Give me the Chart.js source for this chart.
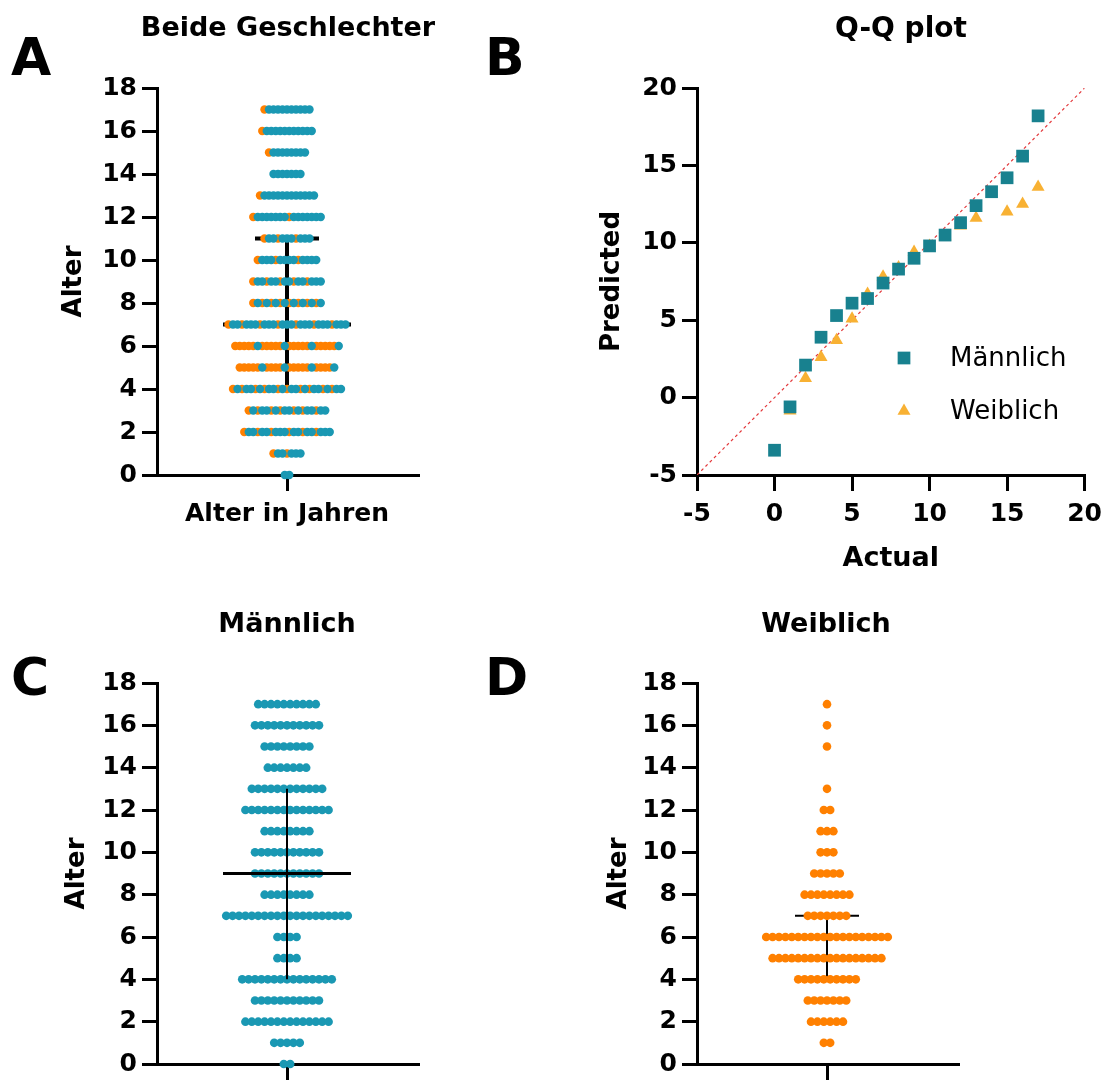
<!DOCTYPE html>
<html>
<head>
<meta charset="utf-8">
<script src="https://cdn.jsdelivr.net/npm/chart.js@4.4.1/dist/chart.umd.min.js"></script>
<style>
  html, body { margin: 0; padding: 0; background: #fff; }
  #wrap { position: relative; width: 1110px; height: 1084px; }
  #wrap canvas { position: absolute; left: 0; top: 0; }
</style>
</head>
<body>
<div id="wrap">
  <canvas id="chartA" width="1110" height="1084"></canvas>
  <canvas id="chartB" width="1110" height="1084"></canvas>
  <canvas id="chartC" width="1110" height="1084"></canvas>
  <canvas id="chartD" width="1110" height="1084"></canvas>
</div>
<script>
const ageLevels = [0, 1, 2, 3, 4, 5, 6, 7, 8, 9, 10, 11, 12, 13, 14, 15, 16, 17];
const maleCounts = [2, 5, 14, 11, 15, 4, 4, 20, 8, 11, 11, 8, 14, 12, 7, 8, 11, 10];
const femaleCounts = [0, 2, 6, 7, 10, 18, 20, 7, 8, 5, 3, 3, 2, 1, 0, 1, 1, 1];
const ageTicks = [0, 2, 4, 6, 8, 10, 12, 14, 16, 18];

// q1, median, q3 as drawn
const summaryAll = [4, 7, 11];
const summaryMale = [4, 9, 13];
const summaryFemale = [4, 6, 7];

// Q-Q plot
const qqActualMale = [0, 1, 2, 3, 4, 5, 6, 7, 8, 9, 10, 11, 12, 13, 14, 15, 16, 17];
const qqPredMale = [-3.4, -0.6, 2.1, 3.9, 5.3, 6.1, 6.4, 7.4, 8.3, 9.0, 9.8, 10.5, 11.3, 12.4, 13.3, 14.2, 15.6, 18.2];
const qqActualFemale = [1, 2, 3, 4, 5, 6, 7, 8, 9, 10, 11, 12, 13, 15, 16, 17];
const qqPredFemale = [-0.85, 1.25, 2.6, 3.7, 5.1, 6.7, 7.8, 8.4, 9.4, 9.8, 10.4, 11.1, 11.6, 12.0, 12.5, 13.6];
const qqTicks = [-5, 0, 5, 10, 15, 20];
const qqRefLine = [-5, 20];

const FONT = '"DejaVu Sans", "Liberation Sans", sans-serif';
const TEAL = '#1a98b3';
const ORANGE = '#ff8000';
const QQ_TEAL = '#18818f';
const QQ_AMBER = '#f8b133';
const W = 1110, H = 1084;

// text drawn around each panel (title + panel letter)
const panelText = {
  id: 'panelText',
  afterDraw(chart, args, opts) {
    if (!opts.title) return;
    const ctx = chart.ctx;
    ctx.save();
    ctx.fillStyle = '#000';
    ctx.textBaseline = 'alphabetic';
    ctx.textAlign = 'center';
    ctx.font = 'bold ' + opts.titleSize + 'px ' + FONT;
    ctx.fillText(opts.title, opts.titleX, opts.titleY);
    ctx.textAlign = 'left';
    ctx.font = 'bold 52px ' + FONT;
    ctx.fillText(opts.letter, opts.letterX, opts.letterY);
    ctx.restore();
  }
};

// legend inside the Q-Q plot area
const qqLegend = {
  id: 'qqLegend',
  afterDatasetsDraw(chart, args, opts) {
    if (!opts.items) return;
    const { ctx, chartArea } = chart;
    ctx.save();
    opts.items.forEach((it, i) => {
      const x = chartArea.left + opts.left;
      const y = chartArea.top + opts.top + i * opts.step;
      ctx.fillStyle = it.color;
      Chart.helpers.drawPoint(ctx, { pointStyle: it.style, radius: it.radius, borderWidth: 0, rotation: 0 }, x, y);
      ctx.fillStyle = '#000';
      ctx.font = '26px ' + FONT;
      ctx.textAlign = 'left';
      ctx.textBaseline = 'middle';
      ctx.fillText(it.text, x + opts.textGap, y + 1);
    });
    ctx.restore();
  }
};
Chart.register(panelText, qqLegend);

function pad(L, T, R, B, yw, xh) {
  return { left: L - yw, top: T, right: W - R, bottom: H - B - xh };
}

// rows of dots, centred on the category
function swarm(counts, gap) {
  const pts = [];
  ageLevels.forEach((age, k) => {
    const n = counts[k];
    for (let i = 0; i < n; i++) pts.push({ x: (i - (n - 1) / 2) * gap, y: age });
  });
  return pts;
}

// both sexes mixed into one row per age
function swarmBoth(gap) {
  const male = [], female = [];
  ageLevels.forEach((age, k) => {
    const nm = maleCounts[k], n = nm + femaleCounts[k];
    for (let i = 0; i < n; i++) {
      const x = (i - (n - 1) / 2) * gap;
      const isMale = Math.floor((i + 1) * nm / n) > Math.floor(i * nm / n);
      (isMale ? male : female).push({ x: x, y: age });
    }
  });
  return { male, female };
}

function summaryLines(s, wMed, wBar, caps) {
  const q1 = s[0], med = s[1], q3 = s[2];
  const sets = [
    { data: [{ x: -64, y: med }, { x: 64, y: med }], borderWidth: wMed },
    { data: [{ x: 0, y: q1 }, { x: 0, y: q3 }], borderWidth: wBar }
  ];
  if (caps) {
    sets.push({ data: [{ x: -32, y: q3 }, { x: 32, y: q3 }], borderWidth: wBar });
    sets.push({ data: [{ x: -32, y: q1 }, { x: 32, y: q1 }], borderWidth: wBar });
  }
  return sets.map(d => Object.assign(d, { showLine: true, borderColor: '#000', pointRadius: 0, clip: false, fill: false }));
}

function dots(data, color, r) {
  return { data: data, backgroundColor: color, pointRadius: r, pointBorderWidth: 0, pointHoverRadius: r, clip: false };
}

const tickFont = { family: FONT, size: 25, weight: 'bold' };
const titleFont = { family: FONT, size: 26, weight: 'bold' };
const gridOpts = { display: true, drawOnChartArea: false, drawTicks: true, tickLength: 15, color: '#000', lineWidth: 3 };
const borderOpts = { display: true, color: '#000', width: 3 };

function ageAxis(titlePad) {
  return {
    type: 'linear', min: 0, max: 18,
    afterBuildTicks: s => { s.ticks = ageTicks.map(v => ({ value: v })); },
    ticks: { color: '#000', padding: 5, font: tickFont },
    grid: gridOpts,
    border: borderOpts,
    title: { display: true, text: 'Alter', color: '#000', padding: { top: titlePad, bottom: 0 }, font: titleFont },
    afterFit: s => { s.width = 100; }
  };
}

function catAxis(xmin, xmax, label, xh) {
  return {
    type: 'linear', min: xmin, max: xmax,
    afterBuildTicks: s => { s.ticks = [{ value: 0 }]; },
    ticks: { color: '#000', padding: 8, maxRotation: 0, autoSkip: false, font: tickFont, callback: () => label },
    grid: Object.assign({}, gridOpts, { tickLength: 16 }),
    border: borderOpts,
    afterFit: s => { s.height = xh; }
  };
}

function baseOptions(padding, text) {
  return {
    responsive: false,
    animation: false,
    events: [],
    layout: { padding: padding },
    plugins: { legend: { display: false }, tooltip: { enabled: false }, panelText: text }
  };
}

// A: both sexes
const both = swarmBoth(4.5);
new Chart(document.getElementById('chartA'), {
  type: 'scatter',
  data: {
    datasets: [dots(both.male, TEAL, 4.2), dots(both.female, ORANGE, 4.2)].concat(summaryLines(summaryAll, 4, 4, true))
  },
  options: Object.assign(baseOptions(pad(157, 88, 418, 475, 100, 100),
    { title: 'Beide Geschlechter', titleSize: 27, titleX: 288, titleY: 36, letter: 'A', letterX: 11, letterY: 75 }), {
    scales: { x: catAxis(-130, 131, 'Alter in Jahren', 100), y: ageAxis(2) }
  })
});

// B: Q-Q plot
new Chart(document.getElementById('chartB'), {
  type: 'scatter',
  data: {
    datasets: [
      { data: qqActualMale.map((v, i) => ({ x: v, y: qqPredMale[i] })), backgroundColor: QQ_TEAL,
        pointStyle: 'rect', pointRadius: 9, pointBorderWidth: 0, clip: false },
      { data: qqActualFemale.map((v, i) => ({ x: v, y: qqPredFemale[i] })), backgroundColor: QQ_AMBER,
        pointStyle: 'triangle', pointRadius: 7.5, pointBorderWidth: 0, clip: false },
      { data: qqRefLine.map(v => ({ x: v, y: v })), showLine: true, borderColor: '#e3393c', borderWidth: 1.2,
        borderDash: [3, 3], pointRadius: 0, fill: false }
    ]
  },
  options: Object.assign(baseOptions(pad(697, 88, 1086, 475, 100, 100),
    { title: 'Q-Q plot', titleSize: 28, titleX: 901, titleY: 37, letter: 'B', letterX: 485, letterY: 75 }), {
    scales: {
      x: {
        type: 'linear', min: -5, max: 20,
        afterBuildTicks: s => { s.ticks = qqTicks.map(v => ({ value: v })); },
        ticks: { color: '#000', padding: 8, maxRotation: 0, font: tickFont },
        grid: Object.assign({}, gridOpts, { tickLength: 16 }),
        border: borderOpts,
        title: { display: true, text: 'Actual', color: '#000', padding: { top: 0, bottom: 0 }, font: { family: FONT, size: 27, weight: 'bold' } },
        afterFit: s => { s.height = 100; }
      },
      y: {
        type: 'linear', min: -5, max: 20,
        afterBuildTicks: s => { s.ticks = qqTicks.map(v => ({ value: v })); },
        ticks: { color: '#000', padding: 5, font: tickFont },
        grid: gridOpts,
        border: borderOpts,
        title: { display: true, text: 'Predicted', color: '#000', padding: { top: 0, bottom: 0 }, font: titleFont },
        afterFit: s => { s.width = 100; }
      }
    }
  })
});
Chart.getChart('chartB').options.plugins.qqLegend = {
  left: 207, top: 270, step: 53, textGap: 46,
  items: [
    { text: 'Männlich', style: 'rect', radius: 9, color: QQ_TEAL },
    { text: 'Weiblich', style: 'triangle', radius: 7.5, color: QQ_AMBER }
  ]
};
Chart.getChart('chartB').update();

// C: Männlich
new Chart(document.getElementById('chartC'), {
  type: 'scatter',
  data: {
    datasets: summaryLines(summaryMale, 3, 2, false).concat([dots(swarm(maleCounts, 6.4), TEAL, 4.3)])
  },
  options: Object.assign(baseOptions(pad(157, 683, 418, 1068, 100, 16),
    { title: 'Männlich', titleSize: 27, titleX: 287, titleY: 632, letter: 'C', letterX: 11, letterY: 695 }), {
    scales: { x: catAxis(-130, 131, '', 16), y: ageAxis(5) }
  })
});

// D: Weiblich
new Chart(document.getElementById('chartD'), {
  type: 'scatter',
  data: {
    datasets: [dots(swarm(femaleCounts, 6.4), ORANGE, 4.3)].concat(summaryLines(summaryFemale, 2, 2, true))
  },
  options: Object.assign(baseOptions(pad(697, 683, 958, 1068, 100, 16),
    { title: 'Weiblich', titleSize: 27, titleX: 826, titleY: 632, letter: 'D', letterX: 485, letterY: 695 }), {
    scales: { x: catAxis(-130, 131, '', 16), y: ageAxis(7) }
  })
});
</script>
</body>
</html>
